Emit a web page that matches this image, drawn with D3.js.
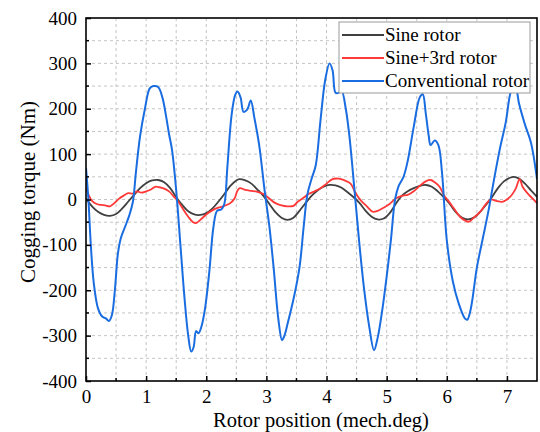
<!DOCTYPE html>
<html><head><meta charset="utf-8">
<script src="https://cdn.jsdelivr.net/npm/d3@7"></script>
<style>body{margin:0;background:#fff}svg{display:block}text{font-family:"Liberation Serif","Times New Roman",serif}</style>
</head><body><svg id="c" width="540" height="432"></svg>
<script>
const xTicks=[0,1,2,3,4,5,6,7];
const yTicks=[-400,-300,-200,-100,0,100,200,300,400];
const seriesNames=["Sine rotor","Sine+3rd rotor","Conventional rotor"];
const seriesColors=["#404040","#ff3838","#1a6de0"];
const sineX=[0,0.1,0.2,0.3,0.4,0.5,0.6,0.7,0.8,0.9,1.0,1.1,1.2,1.3,1.4,1.5,1.6,1.7,1.8,1.9,2.0,2.1,2.2,2.3,2.4,2.5,2.55,2.65,2.75,2.85,2.95,3.05,3.15,3.25,3.35,3.45,3.55,3.65,3.75,3.85,3.95,4.05,4.15,4.25,4.35,4.45,4.55,4.65,4.75,4.85,4.95,5.05,5.15,5.25,5.35,5.45,5.55,5.65,5.75,5.85,5.95,6.05,6.15,6.25,6.35,6.45,6.55,6.65,6.75,6.85,6.95,7.05,7.12,7.2,7.3,7.4,7.5];
const sineY=[2,-15,-27,-34,-36,-32,-20,-5,10,25,36,42,43,38,25,5,-12,-26,-33,-34,-30,-20,-5,12,30,42,45,42,35,22,8,-10,-28,-40,-45,-40,-25,-8,8,20,28,32,31,26,16,5,-8,-25,-38,-44,-42,-30,-10,8,18,25,30,32,28,18,5,-10,-28,-40,-44,-40,-28,-12,5,25,40,48,50,46,35,20,6];
const s3X=[0,0.05,0.1,0.18,0.25,0.32,0.4,0.47,0.55,0.62,0.7,0.78,0.85,0.92,1.0,1.08,1.15,1.22,1.3,1.38,1.45,1.52,1.6,1.7,1.78,1.83,1.9,2.0,2.1,2.2,2.3,2.4,2.47,2.52,2.56,2.65,2.75,2.85,2.95,3.05,3.15,3.25,3.35,3.45,3.52,3.6,3.7,3.8,3.9,4.0,4.1,4.2,4.3,4.4,4.48,4.57,4.67,4.77,4.85,4.95,5.05,5.15,5.25,5.35,5.45,5.55,5.65,5.73,5.8,5.88,5.95,6.02,6.12,6.22,6.3,6.37,6.45,6.55,6.65,6.73,6.82,6.92,7.0,7.08,7.15,7.21,7.26,7.34,7.42,7.5];
const s3Y=[25,8,-3,-10,-12,-13,-15,-8,2,8,14,13,18,15,18,22,28,27,24,18,8,-2,-18,-38,-50,-52,-45,-33,-24,-18,-14,-8,2,20,25,21,19,17,12,2,-8,-13,-15,-14,-5,2,12,18,25,35,45,46,42,35,15,-2,-15,-27,-25,-18,-10,2,8,10,18,30,40,43,38,28,10,-2,-20,-38,-46,-49,-40,-28,-10,0,-3,-5,0,10,25,45,28,14,3,-8];
const convX=[0,0.04,0.08,0.13,0.2,0.27,0.33,0.38,0.43,0.48,0.53,0.58,0.65,0.72,0.78,0.83,0.9,0.98,1.06,1.12,1.2,1.27,1.33,1.38,1.43,1.5,1.57,1.64,1.7,1.75,1.79,1.83,1.87,1.92,1.98,2.05,2.12,2.18,2.25,2.3,2.35,2.42,2.48,2.52,2.57,2.62,2.68,2.74,2.8,2.88,2.97,3.05,3.12,3.2,3.26,3.3,3.35,3.45,3.55,3.62,3.68,3.75,3.82,3.9,3.98,4.05,4.1,4.15,4.2,4.25,4.32,4.38,4.46,4.54,4.62,4.71,4.79,4.85,4.92,5.0,5.07,5.14,5.2,5.28,5.35,5.45,5.55,5.6,5.65,5.7,5.73,5.8,5.86,5.92,6.0,6.1,6.2,6.3,6.34,6.4,6.5,6.6,6.7,6.78,6.88,6.98,7.05,7.1,7.15,7.2,7.3,7.4,7.5];
const convY=[70,0,-100,-185,-240,-258,-262,-268,-255,-200,-120,-85,-60,-35,-5,60,140,200,245,250,248,225,185,145,110,20,-100,-220,-300,-335,-325,-290,-295,-280,-240,-160,-60,-25,-22,-10,70,185,230,238,225,193,198,218,180,120,20,-60,-150,-265,-310,-300,-275,-220,-150,-60,10,45,75,175,265,300,285,235,235,240,200,140,28,-89,-192,-280,-332,-305,-250,-170,-90,0,30,50,85,160,225,232,190,140,120,130,120,60,-90,-180,-230,-262,-265,-240,-150,-85,-20,40,110,170,230,250,245,212,165,125,45];

const svg=d3.select("#c");
const m={l:86,r:537,t:18,b:381};
const x=d3.scaleLinear().domain([0,7.5]).range([m.l,m.r]);
const y=d3.scaleLinear().domain([-400,400]).range([m.b,m.t]);

// grid
const g=svg.append("g");
d3.range(0.5,7.5,0.5).forEach(v=>g.append("line").attr("x1",x(v)).attr("x2",x(v)).attr("y1",m.t).attr("y2",m.b)
  .attr("stroke","#c4c4c4").attr("stroke-width",1).attr("stroke-dasharray","3,3"));
d3.range(-350,400,50).forEach(v=>g.append("line").attr("x1",m.l).attr("x2",m.r).attr("y1",y(v)).attr("y2",y(v))
  .attr("stroke","#c4c4c4").attr("stroke-width",1).attr("stroke-dasharray","3,3"));

// series
const data=[[sineX,sineY],[s3X,s3Y],[convX,convY]];
const line=d3.line().x(d=>x(d[0])).y(d=>y(d[1])).curve(d3.curveCatmullRom.alpha(0.5));
svg.append("clipPath").attr("id","cp").append("rect").attr("x",m.l).attr("y",m.t).attr("width",m.r-m.l).attr("height",m.b-m.t);
data.forEach((s,i)=>{
  const pts=s[0].map((v,j)=>[v,s[1][j]]);
  svg.append("path").attr("d",line(pts)).attr("fill","none").attr("stroke",seriesColors[i])
    .attr("stroke-width",i==2?2:1.8).attr("clip-path","url(#cp)");
});

// axes
const fs=19;
const xa=d3.axisBottom(x).tickValues(xTicks).tickSize(-5).tickPadding(9).tickFormat(d3.format("d"));
const ya=d3.axisLeft(y).tickValues(yTicks).tickSize(-5).tickPadding(9).tickFormat(d3.format("d"));
const gx=svg.append("g").attr("transform",`translate(0,${m.b})`).call(xa);
const gy=svg.append("g").attr("transform",`translate(${m.l},0)`).call(ya);
[gx,gy].forEach(a=>{a.select(".domain").remove();a.selectAll("line").attr("stroke","#000").attr("stroke-width",1.5);
  a.selectAll("text").attr("font-size",fs).attr("fill","#000").attr("font-family","Liberation Serif");});
gy.selectAll("text").text(d=>d<0?"-"+Math.abs(d):d);
// minor ticks
d3.range(0.5,7.5,1).forEach(v=>svg.append("line").attr("x1",x(v)).attr("x2",x(v)).attr("y1",m.b).attr("y2",m.b-3).attr("stroke","#000").attr("stroke-width",1.5));
d3.range(-350,400,100).forEach(v=>svg.append("line").attr("x1",m.l).attr("x2",m.l+3).attr("y1",y(v)).attr("y2",y(v)).attr("stroke","#000").attr("stroke-width",1.5));
// frame
svg.append("rect").attr("x",m.l).attr("y",m.t).attr("width",m.r-m.l).attr("height",m.b-m.t).attr("fill","none").attr("stroke","#000").attr("stroke-width",1.6);

// titles
svg.append("text").attr("x",321).attr("y",427).attr("text-anchor","middle").attr("font-size",20.5).text("Rotor position (mech.deg)");
svg.append("text").attr("transform","translate(35,192) rotate(-90)").attr("text-anchor","middle").attr("font-size",21).text("Cogging torque (Nm)");

// legend
const lg=svg.append("g");
lg.append("rect").attr("x",339).attr("y",22).attr("width",191).attr("height",71).attr("fill","#fff").attr("stroke","#999").attr("stroke-width",1);
seriesNames.forEach((n,i)=>{
  const cy=35+i*23;
  lg.append("line").attr("x1",342).attr("x2",384).attr("y1",cy).attr("y2",cy).attr("stroke",seriesColors[i]).attr("stroke-width",2);
  lg.append("text").attr("x",385).attr("y",cy+6).attr("font-size",19).text(n);
});
</script></body></html>
